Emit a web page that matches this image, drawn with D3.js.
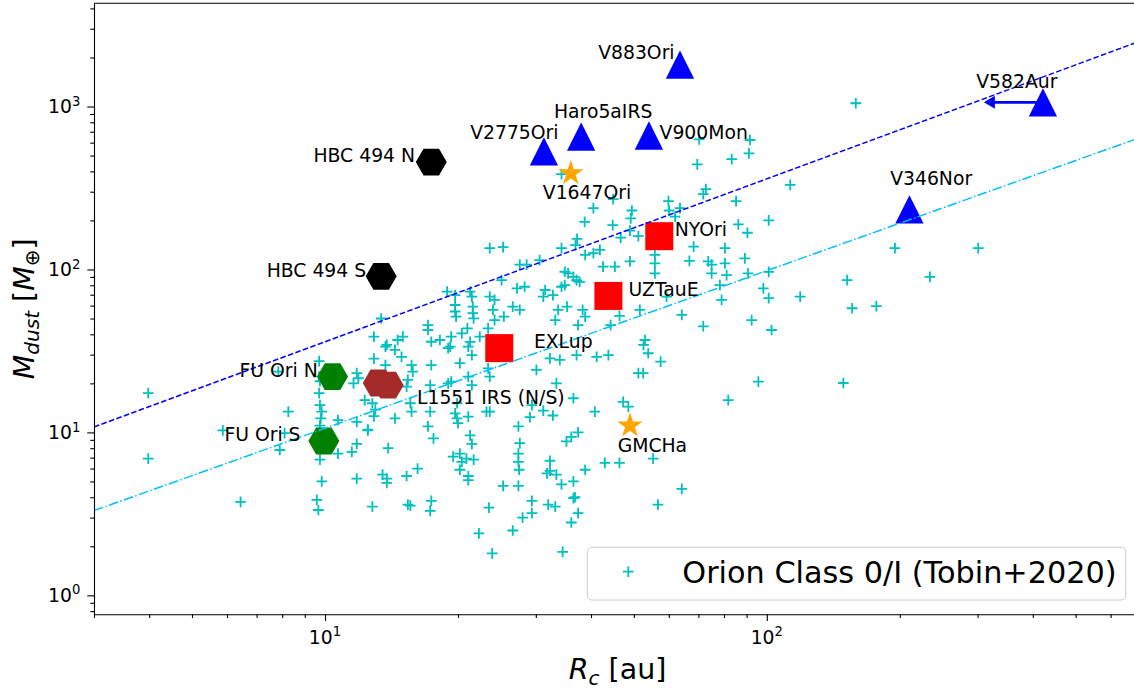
<!DOCTYPE html>
<html><head><meta charset="utf-8">
<script src="https://cdn.jsdelivr.net/npm/d3@7"></script>
<style>
body{margin:0;background:#fff}
text{font-family:"DejaVu Sans",sans-serif;white-space:pre}
</style>
</head><body>
<svg id="c" width="1134" height="688"></svg>
<script>
// ---------- DATA ----------
// Orion Class 0/I (Tobin+2020): disk radius Rc [au] and dust mass [M_earth]
const orionR = [70.3,91.6,91.1,83.3,69.6,72.8,71.8,85.2,101,86.2,90.4,59.9,63.6,60.1,62.0,40.5,38.7,44.8,49.5,49.2,
49.0,46.7,51.2,37.2,36.9,44.9,34.3,23.6,25.3,34.3,68.3,80.4,159,113,195,301,40.5,41.9,38.8,55.8,
55.8,55.8,80.4,66.8,73.7,75.0,75.0,89.2,90.7,81.1,98.2,101,78.3,79.0,64.2,71.8,92.4,102.5,95.7,81.8,
59.3,51.6,46.4,44.3,53.0,52.6,53.9,57.5,51.2,52.5,47.3,48.6,40.8,36.5,33.4,30.1,41.2,43.8,37.1,37.4,
38.8,38.3,35.3,33.2,33.7,31.5,31.2,32.8,34.3,34.9,35.5,36.5,37.1,37.7,34.9,42.6,45.3,49.0,28.3,27.2,
30.6,28.6,27.6,25.1,21.3,21.5,18.9,19.7,19.7,19.7,19.8,21.6,21.6,21.7,23.6,24.2,24.0,26.6,27.6,25.4,
24.2,23.4,22.4,21.0,20.4,19.3,18.2,17.4,17.1,17.1,15.0,13.8,14.4,14.9,19.2,19.0,21.3,21.1,20.2,21.5,
17.4,15.7,15.8,13.7,15.4,15.3,17.3,19.0,19.3,21.1,21.5,23.4,23.6,32.3,34.0,15.6,15.7,14.4,17.3,17.1,
17.6,19.9,19.7,19.9,21.1,20.0,23.2,23.6,29.4,29.1,31.2,32.8,27.4,27.6,35.2,36.1,37.4,21.3,21.5,13.9,
20.2,27.4,27.4,27.5,13.5,13.8,13.8,15.3,16.2,19.5,20.4,20.9,21.7,20.2,21.1,21.1,15.4,15.6,17.4,17.3,
23.5,22.3,23.9,25.3,27.4,26.6,28.0,29.4,29.4,32.0,33.2,32.3,31.8,32.3,33.4,34.3,36.5,36.8,36.5,37.4,
36.1,34.5,38.8,43.0,46.4,55.3,56.7,64.2,9.74,10.7,11.8,12.5,8.1,7.9,9.74,10.7,11.5,11.8,9.83,11.8,
6.44,9.58,9.66,12.8,13.4,12.9,13.7,12.9,9.7,7.84,11.8,11.6,9.74,9.7,9.7,9.74,9.83,9.78,8.26,12.3,
12.8,13.0,12.9,14.6,11.9,12.5,3.98,5.87,3.98,101,119,152,234,156,177,149];
const orionM = [629,623,516,475,441,311,290,263,200,189,168,263,238,230,211,238,196,187,230,206,
173,157,160,154,141,270,385,135,137,135,138,135,1047,330,135,135,126,132,123,123,
109,94.6,109,113,112,107,94.6,117,94.6,92.3,76.6,66.6,80.2,65.0,52.6,44.7,48.9,42.5,20.5,15.8,
68.1,56.5,51.9,45.5,36.9,34.4,30.6,27.2,23.1,23.1,15.4,14.4,13.4,16.2,20.0,24.2,29.1,29.8,29.8,45.5,
51.3,56.5,59.1,48.9,56.5,74.8,68.1,69.6,78.3,80.2,94.6,90.0,86.1,84.0,96.8,104,104,112,78.3,76.6,
114,107,107,86.1,73.1,68.1,73.1,69.6,60.5,55.2,51.3,59.1,54.0,50.1,68.1,65.0,56.5,59.1,56.5,51.3,
48.9,43.5,38.7,43.5,40.5,38.7,36.9,36.0,45.5,42.5,38.7,34.4,32.1,29.1,33.6,32.9,35.9,33.6,26.6,29.8,
25.9,25.9,23.6,25.9,21.0,19.1,19.5,20.0,20.5,22.0,19.5,24.7,22.0,28.5,27.9,15.1,13.4,12.2,13.4,10.9,
9.2,15.1,13.1,12.2,12.5,11.4,13.4,13.4,14.7,12.4,13.6,12.7,10.9,8.6,8.8,9.4,10.0,9.6,8.5,8.0,
7.4,7.4,6.6,5.9,5.5,5.2,4.9,5.4,6.0,7.1,6.6,6.9,6.8,5.9,5.4,5.1,3.6,3.55,3.8,3.3,
3.45,2.4,1.81,4.7,4.7,2.5,3.0,3.2,3.8,3.6,3.5,6.7,5.6,5.8,5.5,4.8,5.0,4.0,3.95,3.2,
2.8,1.85,5.9,6.5,6.5,6.9,3.6,4.5,11.0,11.9,11.6,10.4,9.9,7.8,6.8,7.4,7.6,8.5,5.0,5.2,
3.75,3.85,3.34,3.5,50.0,38.7,33.6,28.4,27.4,23.6,23.1,20.0,20.6,22.0,17.4,14.7,13.4,12.2,13.4,15.8,
15.1,13.8,12.6,36.9,21.5,10.3,17.4,10.3,6.9,96.7,68.1,86.1,90.0,57.8,59.5,20.1];
// Triangles (blue)
const triNames = ["V883Ori","Haro5aIRS","V900Mon","V2775Ori","V582Aur","V346Nor"];
const triR = [63.6, 38.0, 54.1, 31.3, 421.7, 210.3];
const triM = [1807, 653, 664, 531, 1061, 234];
// Stars (orange)
const starNames = ["V1647Ori","GMCHa"];
const starR = [36.0, 49.0];
const starM = [389, 11.0];
// Squares (red)
const sqNames = ["NYOri","UZTauE","EXLup"];
const sqR = [57.1, 43.8, 24.8];
const sqM = [160, 68.8, 32.9];
// Hexagons
const hexNames = ["HBC 494 N","HBC 494 S","FU Ori N","FU Ori S","L1551 IRS (N/S)",""];
const hexR = [17.4, 13.4, 10.4, 9.94, 13.2, 13.9];
const hexM = [456, 90.7, 22.0, 8.86, 20.1, 19.5];
const hexGroup = ["HBC494","HBC494","FUOri","FUOri","L1551","L1551"];
// Upper-limit arrow for V582Aur
const arrowFromR = 421.7, arrowToR = 310, arrowM = 1061;
// Reference lines
const lineR = [3.0, 703];
const dashedM = [10.8, 2531];
const dashdotM = [3.31, 648];
// Ticks / legend
const xMajor = [10, 100];
const yMajor = [1, 10, 100, 1000];
const legendLabel = "Orion Class 0/I (Tobin+2020)";

// ---------- STYLE / LAYOUT ----------
const hexColor = {HBC494:"#000000", FUOri:"#008000", L1551:"#a52a2a"};
const labelPos = {
  "V883Ori":{dx:-5.4,dy:-6,a:"end"},
  "Haro5aIRS":{dx:22,dy:-18.5,a:"middle"},
  "V900Mon":{dx:10.6,dy:3.6,a:"start"},
  "V2775Ori":{dx:14.6,dy:-12,a:"end"},
  "V582Aur":{dx:-66.7,dy:-14,a:"start"},
  "V346Nor":{dx:-19.3,dy:-24,a:"start"},
  "V1647Ori":{dx:-28,dy:26,a:"start"},
  "GMCHa":{dx:-12.3,dy:26.7,a:"start"},
  "NYOri":{dx:15.4,dy:0,a:"start"},
  "UZTauE":{dx:20.2,dy:0,a:"start"},
  "EXLup":{dx:34.6,dy:0,a:"start"},
  "HBC 494 N":{dx:-16.2,dy:0,a:"end"},
  "HBC 494 S":{dx:-15,dy:0.5,a:"end"},
  "FU Ori N":{dx:-14.7,dy:0,a:"end"},
  "FU Ori S":{dx:-23.3,dy:0.4,a:"end"},
  "L1551 IRS (N/S)":{dx:38.7,dy:21.3,a:"start"}
};
const m = {l:94, r:1141, t:3.3, b:614.3};
const svg = d3.select("#c");
const x = d3.scaleLog().domain([3.0, 703]).range([m.l, m.r]);
const y = d3.scaleLog().domain([0.765, 4300]).range([m.b, m.t]);

svg.append("defs").append("clipPath").attr("id","clip")
  .append("rect").attr("x",m.l).attr("y",m.t).attr("width",m.r-m.l).attr("height",m.b-m.t);
const plot = svg.append("g").attr("clip-path","url(#clip)");

const cs = 5.35;
plot.append("g").selectAll("path").data(orionR.map((r,i)=>[r,orionM[i]])).join("path")
  .attr("d",`M${-cs},0H${cs}M0,${-cs}V${cs}`)
  .attr("transform",d=>`translate(${x(d[0])},${y(d[1])})`)
  .attr("stroke","#00bfbf").attr("stroke-width",1.8).attr("fill","none");

const hr = 15.5;
const hexD = "M"+d3.range(6).map(k=>{const a=k*Math.PI/3;return [hr*Math.cos(a),hr*Math.sin(a)].join(",");}).join("L")+"Z";
plot.append("g").selectAll("path").data(hexR.map((r,i)=>({r,mm:hexM[i],g:hexGroup[i]}))).join("path")
  .attr("d",hexD).attr("transform",d=>`translate(${x(d.r)},${y(d.mm)})`)
  .attr("fill",d=>hexColor[d.g]);

const sq = 28;
plot.append("g").selectAll("rect").data(sqR.map((r,i)=>[r,sqM[i]])).join("rect")
  .attr("x",d=>x(d[0])-sq/2).attr("y",d=>y(d[1])-sq/2).attr("width",sq).attr("height",sq)
  .attr("fill","#ff0000");

const so = 13.4, si = so*0.381966;
const starD = "M"+d3.range(10).map(k=>{const a=-Math.PI/2+k*Math.PI/5;const rr=k%2?si:so;return [rr*Math.cos(a),rr*Math.sin(a)].join(",");}).join("L")+"Z";
plot.append("g").selectAll("path").data(starR.map((r,i)=>[r,starM[i]])).join("path")
  .attr("d",starD).attr("transform",d=>`translate(${x(d[0])},${y(d[1])})`).attr("fill","#ffa500");

const th = 14.15;
plot.append("g").selectAll("path").data(triR.map((r,i)=>[r,triM[i]])).join("path")
  .attr("d",`M0,${-th}L${th},${th}L${-th},${th}Z`)
  .attr("transform",d=>`translate(${x(d[0])},${y(d[1])})`).attr("fill","#0000ff");

const ay = y(arrowM), ax0 = x(arrowFromR), ax1 = x(arrowToR);
plot.append("line").attr("x1",ax0).attr("x2",ax1+9).attr("y1",ay).attr("y2",ay)
  .attr("stroke","#0000ff").attr("stroke-width",2.6);
plot.append("path").attr("d",`M${ax1},${ay}L${ax1+11},${ay-6.5}L${ax1+11},${ay+6.5}Z`).attr("fill","#0000ff");

const ln = d3.line().x(d=>x(d[0])).y(d=>y(d[1]));
plot.append("path").attr("d",ln(lineR.map((r,i)=>[r,dashedM[i]])))
  .attr("stroke","#0000ff").attr("stroke-width",1.5).attr("fill","none").attr("stroke-dasharray","5.55,2.4");
plot.append("path").attr("d",ln(lineR.map((r,i)=>[r,dashdotM[i]])))
  .attr("stroke","#00bfff").attr("stroke-width",1.5).attr("fill","none").attr("stroke-dasharray","9.6,2.4,1.5,2.4");

const lblG = svg.append("g").attr("font-size",18.8).attr("fill","#000");
function addLabels(names,R,M){
  names.forEach((n,i)=>{ if(!n) return; const p=labelPos[n];
    lblG.append("text").attr("x",x(R[i])+p.dx).attr("y",y(M[i])+p.dy).attr("text-anchor",p.a).text(n);});
}
addLabels(triNames,triR,triM);
addLabels(starNames,starR,starM);
addLabels(sqNames,sqR,sqM);
addLabels(hexNames,hexR,hexM);

const tickCol = "#000";
function pow10Label(sel, d){
  const e = Math.round(Math.log10(d));
  sel.append("tspan").text("10");
  sel.append("tspan").attr("font-size",13.2).attr("dy",-7.6).text(String(e));
}
const gx = svg.append("g").attr("transform",`translate(0,${m.b})`);
gx.call(d3.axisBottom(x).tickValues(xMajor).tickSize(6.7).tickSizeOuter(0).tickFormat(""));
gx.append("g").call(d3.axisBottom(x).tickValues(x.ticks().filter(v=>!xMajor.includes(v))).tickSize(3.7).tickSizeOuter(0).tickFormat(""))
  .select(".domain").remove();
const gy = svg.append("g").attr("transform",`translate(${m.l},0)`);
gy.call(d3.axisLeft(y).tickValues(yMajor).tickSize(6.7).tickSizeOuter(0).tickFormat(""));
gy.append("g").call(d3.axisLeft(y).tickValues(y.ticks().filter(v=>!yMajor.some(t=>Math.abs(t-v)<1e-9))).tickSize(3.7).tickSizeOuter(0).tickFormat(""))
  .select(".domain").remove();
svg.selectAll(".domain,.tick line").attr("stroke",tickCol).attr("stroke-width",1.1);
svg.append("line").attr("x1",m.l).attr("x2",m.r).attr("y1",m.t).attr("y2",m.t).attr("stroke",tickCol).attr("stroke-width",1.1);
svg.append("line").attr("x1",m.r).attr("x2",m.r).attr("y1",m.t).attr("y2",m.b).attr("stroke",tickCol).attr("stroke-width",1.1);

xMajor.forEach(v=>{
  const t = svg.append("text").attr("x",x(v)).attr("y",644).attr("text-anchor","middle").attr("font-size",18.8);
  pow10Label(t,v);
});
yMajor.forEach(v=>{
  const t = svg.append("text").attr("x",80.3).attr("y",y(v)+6.7).attr("text-anchor","end").attr("font-size",18.8);
  pow10Label(t,v);
});

const xt = svg.append("text").attr("x",(m.l+m.r)/2).attr("y",679).attr("text-anchor","middle").attr("font-size",28.5);
xt.append("tspan").attr("font-style","italic").text("R");
xt.append("tspan").attr("font-style","italic").attr("font-size",20).attr("dy",5.5).text("c");
xt.append("tspan").attr("dy",-5.5).text(" [au]");

const yt = svg.append("text").attr("transform",`translate(33.5,${(m.t+m.b)/2}) rotate(-90)`).attr("text-anchor","middle").attr("font-size",28.5);
yt.append("tspan").attr("font-style","italic").text("M");
yt.append("tspan").attr("font-style","italic").attr("font-size",20).attr("dy",5.5).text("dust");
yt.append("tspan").attr("dy",-5.5).text(" [");
yt.append("tspan").attr("font-style","italic").text("M");
yt.append("tspan").attr("font-size",20).attr("dy",5.5).text("\u2295");
yt.append("tspan").attr("dy",-5.5).text("]");

const lg = svg.append("g");
lg.append("rect").attr("x",587.3).attr("y",547.3).attr("width",538.4).attr("height",52.7).attr("rx",4.5)
  .attr("fill","#fff").attr("fill-opacity",0.8).attr("stroke","#cccccc").attr("stroke-width",1);
lg.append("path").attr("d",`M${-cs},0H${cs}M0,${-cs}V${cs}`).attr("transform","translate(628.3,571.7)")
  .attr("stroke","#00bfbf").attr("stroke-width",1.8);
lg.append("text").attr("x",682.3).attr("y",583.3).attr("font-size",30.3).text(legendLabel);
</script>
</body></html>
